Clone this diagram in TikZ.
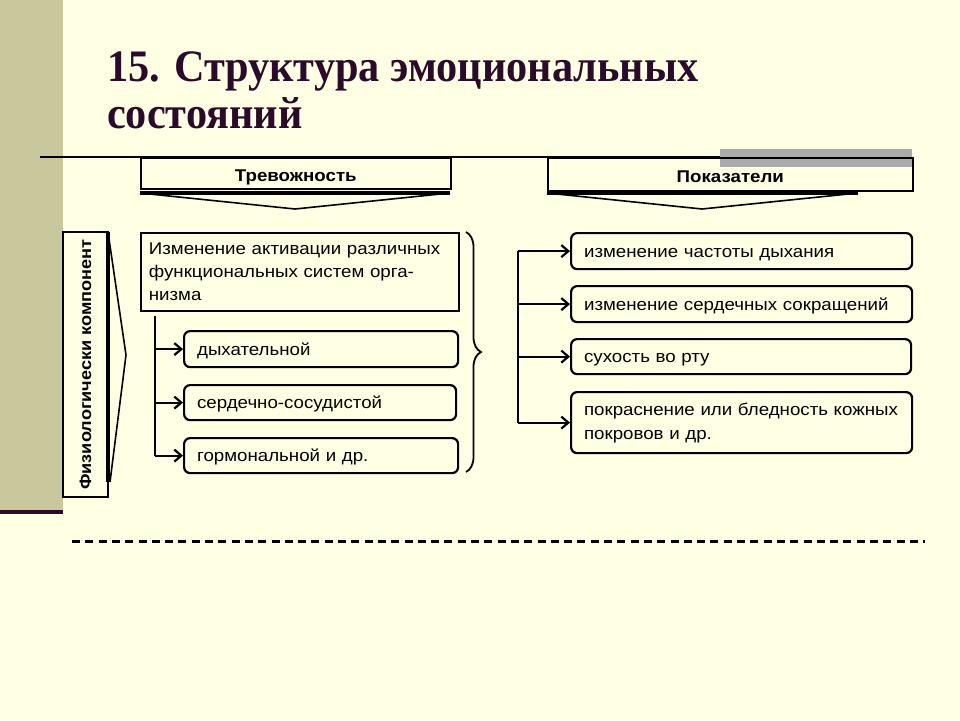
\documentclass[tikz,border=0pt]{standalone}
\usepackage{fontspec}
\setmainfont[FakeStretch=1.1]{Liberation Sans}
\newfontfamily\titlefont[FakeStretch=0.94]{Liberation Serif}
\usetikzlibrary{arrows.meta, positioning, decorations.pathreplacing, calc}
\definecolor{slidebg}{HTML}{FFFFE3}
\definecolor{sideband}{HTML}{C9C89C}
\definecolor{titleplum}{HTML}{2C0A2C}
\colorlet{barshade}{black!33}
\newcommand{\fs}[2]{\fontsize{#1}{#2}\selectfont}

\begin{document}
\begin{tikzpicture}[x=1pt, y=-1pt, line join=miter,
    >={Straight Barb[length=7pt, width=12pt, line width=2.2pt]},
    hdrbox/.style={draw, line width=1.6pt, anchor=north west, inner sep=0pt, text height=19pt, text depth=2pt, font=\bfseries\fs{17}{20}},
    sqbox/.style={draw, line width=1.8pt, anchor=north west, align=left, inner xsep=8pt, inner ysep=4pt, font=\fs{17}{23}},
    rbox/.style={draw, line width=2.2pt, rounded corners=6pt, anchor=north west, align=left, inner xsep=13pt, inner ysep=4pt, font=\fs{17}{24}},
    oneline/.style={text height=15pt, text depth=3pt},
    link/.style={line width=2.2pt}]
  % slide background
  \fill[slidebg] (0,0) rectangle (960,720);
  \fill[sideband] (0,0) rectangle (63,512);
  \fill[titleplum] (0,510) rectangle (63,514);
  \useasboundingbox (0,0) rectangle (960,720);

  \node[anchor=north west, align=left, text=titleplum, font=\titlefont\bfseries\fs{45}{46.5}, inner sep=0pt] (title) at (107,52) {15. Структура эмоциональных\\состояний};

  \fill[barshade] (720,149) rectangle (912,167);
  \draw[line width=1.5pt] (40,157) -- (720,157);

  % headers
  \node[hdrbox, minimum width=310, minimum height=31] (trev) at (140,157) {Тревожность};
  \node[hdrbox, minimum width=365, minimum height=33] (pokaz) at (547,157) {Показатели};
  \draw[line width=1.6pt] (140,193) -- (295,209) -- (450,193);
  \draw[line width=3.5pt] (140,193) -- (450,193);
  \draw[line width=1.6pt] (547,193) -- (702,209) -- (858,193);
  \draw[line width=3.5pt] (547,193) -- (858,193);

  % left part
  \node[draw, line width=1.6pt, rotate=90, minimum width=265, minimum height=45, inner sep=0pt, font=\bfseries\fs{16.5}{20}] (phys) at (85.5,364.5) {Физиологически компонент};
  \draw[line width=3.5pt] (108,232) -- (108,482);
  \draw[line width=1.6pt] (108,232) -- (126,355) -- (110,482);

  \node[sqbox, minimum width=318, minimum height=78, text width=302] (activ) at (140,232) {Изменение активации различных\\функциональных систем орга-\\низма};
  \node[rbox, oneline, minimum width=274, minimum height=36, text width=248] (sys1) at (183,330) {дыхательной};
  \node[rbox, oneline, minimum width=272, minimum height=35, text width=246] (sys2) at (183,384) {сердечно-сосудистой};
  \node[rbox, oneline, minimum width=274, minimum height=35, text width=248] (sys3) at (183,437) {гормональной и др.};

  \coordinate (ltrunk) at (155,316);
  \draw[link] (ltrunk) -- (ltrunk |- sys3.west);
  \foreach \n in {1,2,3} { \draw[link, ->] (ltrunk |- sys\n.west) -- (sys\n.west); }

  \draw[line width=1.8pt, decorate, decoration={brace, amplitude=15pt}] (466,232) -- (466,472);

  % right part
  \node[rbox, oneline, minimum width=341, minimum height=36, text width=315] (pok1) at (570,232) {изменение частоты дыхания};
  \node[rbox, oneline, minimum width=341, minimum height=36, text width=315] (pok2) at (570,285) {изменение сердечных сокращений};
  \node[rbox, oneline, minimum width=340, minimum height=35, text width=314] (pok3) at (570,338) {сухость во рту};
  \node[rbox, minimum width=341, minimum height=61, text width=315] (pok4) at (570,391) {покраснение или бледность кожных\\покровов и др.};

  \coordinate (rtrunk) at (518,0);
  \draw[link] (rtrunk |- pok1.west) -- (rtrunk |- pok4.west);
  \foreach \n in {1,...,4} { \draw[link, ->] (rtrunk |- pok\n.west) -- (pok\n.west); }

  \draw[line width=3pt, dash pattern=on 8pt off 5.3pt] (72,541) -- (925,541);
\end{tikzpicture}
\end{document}
